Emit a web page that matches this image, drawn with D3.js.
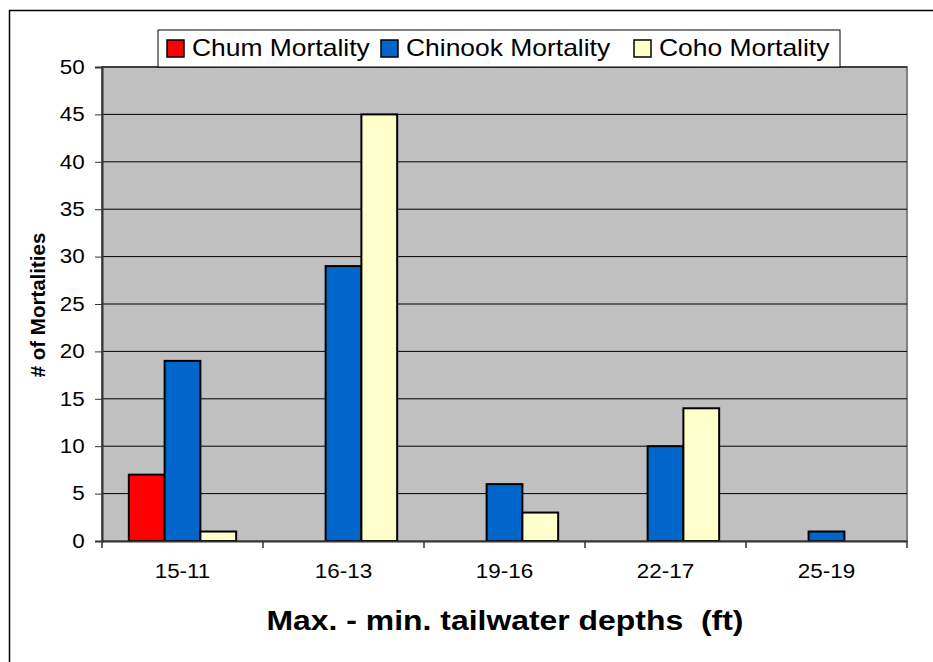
<!DOCTYPE html>
<html>
<head>
<meta charset="utf-8">
<script src="https://cdn.jsdelivr.net/npm/d3@7"></script>
<style>
  body { margin: 0; background: #fff; }
  text { font-family: "Liberation Sans", Arial, sans-serif; }
</style>
</head>
<body>
<div id="chart"></div>
<script>
// data
var categories = ["15-11", "16-13", "19-16", "22-17", "25-19"];
var seriesNames = ["Chum Mortality", "Chinook Mortality", "Coho Mortality"];
var chum = [7, 0, 0, 0, 0];
var chinook = [19, 29, 6, 10, 1];
var coho = [1, 45, 3, 14, 0];
var yTicks = [0, 5, 10, 15, 20, 25, 30, 35, 40, 45, 50];
var colors = ["#FF0000", "#0066CC", "#FFFFCC"];

const width = 933, height = 662,
    margin = {left: 102, top: 67, right: 26, bottom: 121},
    contentWidth = width - margin.left - margin.right,
    contentHeight = height - margin.top - margin.bottom;

// the original text is a bit wider than Arial, stretch it horizontally
const stretch = 1.15;

const svg = d3.select("#chart")
    .append("svg")
    .attr("width", width)
    .attr("height", height);

// outer chart border (cropped on right/bottom)
svg.append("rect")
    .attr("x", 9.5).attr("y", 10.5)
    .attr("width", 960).attr("height", 700)
    .attr("fill", "none")
    .attr("stroke", "#000")
    .attr("stroke-width", 1.5);

const g = svg.append("g")
    .attr("transform", `translate(${margin.left}, ${margin.top})`);

const xScale = d3.scaleBand()
    .domain(categories)
    .range([0, contentWidth]);

const yScale = d3.scaleLinear()
    .domain([0, 50])
    .range([contentHeight, 0]);

// bar width: Excel gap width 150% -> band = 4.5 bar widths
const barW = xScale.bandwidth() / 4.5;
const groupOffset = barW * 0.75;

// plot background
g.append("rect")
    .attr("width", contentWidth)
    .attr("height", contentHeight)
    .attr("fill", "#C0C0C0")
    .attr("stroke", "#808080")
    .attr("stroke-width", 2);

// gridlines
g.selectAll(".grid")
    .data(yTicks.slice(1))
    .enter()
    .append("line")
    .attr("x1", 0).attr("x2", contentWidth)
    .attr("y1", d => yScale(d)).attr("y2", d => yScale(d))
    .attr("stroke", "#000")
    .attr("stroke-width", 1);

// bars
var allSeries = [chum, chinook, coho];
allSeries.forEach(function (values, si) {
    g.selectAll(".bar" + si)
        .data(values.map((v, i) => ({cat: categories[i], value: v})).filter(d => d.value > 0))
        .enter()
        .append("rect")
        .attr("x", d => xScale(d.cat) + groupOffset + si * barW)
        .attr("y", d => yScale(d.value))
        .attr("width", barW)
        .attr("height", d => contentHeight - yScale(d.value))
        .attr("fill", colors[si])
        .attr("stroke", "#000")
        .attr("stroke-width", 2);
});

// y axis
const yAxis = g.append("g")
    .call(d3.axisLeft(yScale).tickValues(yTicks).tickSize(7).tickPadding(8));
yAxis.select(".domain").attr("stroke", "#333").attr("stroke-width", 2);
yAxis.selectAll(".tick line").attr("stroke", "#333");
yAxis.selectAll("text")
    .style("font-size", "19.5px")
    .attr("fill", "#000")
    .attr("transform", `scale(${stretch},1)`);

// x axis
const xAxis = g.append("g")
    .attr("transform", `translate(0, ${contentHeight})`)
    .call(d3.axisBottom(xScale).tickSize(0).tickPadding(23));
xAxis.select(".domain").attr("stroke", "#333").attr("stroke-width", 2);
xAxis.selectAll("text")
    .style("font-size", "19.5px")
    .attr("fill", "#000")
    .attr("transform", `scale(${stretch},1)`);

// x category separator ticks
g.selectAll(".xtick")
    .data(categories.concat(["end"]))
    .enter()
    .append("line")
    .attr("x1", (d, i) => i * xScale.step())
    .attr("x2", (d, i) => i * xScale.step())
    .attr("y1", contentHeight)
    .attr("y2", contentHeight + 7)
    .attr("stroke", "#333")
    .attr("stroke-width", 1.5);

// axis titles
svg.append("text")
    .attr("transform", `translate(505, 630) scale(1.12,1)`)
    .attr("text-anchor", "middle")
    .style("font-size", "28.5px")
    .style("font-weight", "bold")
    .style("white-space", "pre")
    .text("Max. - min. tailwater depths  (ft)");

svg.append("text")
    .attr("transform", "translate(45, 305) rotate(-90)")
    .attr("text-anchor", "middle")
    .style("font-size", "20.5px")
    .style("font-weight", "bold")
    .text("# of Mortalities");

// legend
const legend = svg.append("g").attr("transform", "translate(158, 30)");
legend.append("rect")
    .attr("width", 682)
    .attr("height", 37)
    .attr("fill", "#fff")
    .attr("stroke", "#000")
    .attr("stroke-width", 1);

var legendX = [9, 223, 476];
seriesNames.forEach(function (name, i) {
    const item = legend.append("g").attr("transform", `translate(${legendX[i]}, 0)`);
    item.append("rect")
        .attr("x", 0).attr("y", 10)
        .attr("width", 17).attr("height", 17)
        .attr("fill", colors[i])
        .attr("stroke", "#000")
        .attr("stroke-width", 1.5);
    item.append("text")
        .attr("transform", `translate(25, 26) scale(${stretch},1)`)
        .style("font-size", "23px")
        .text(name);
});
</script>
</body>
</html>
